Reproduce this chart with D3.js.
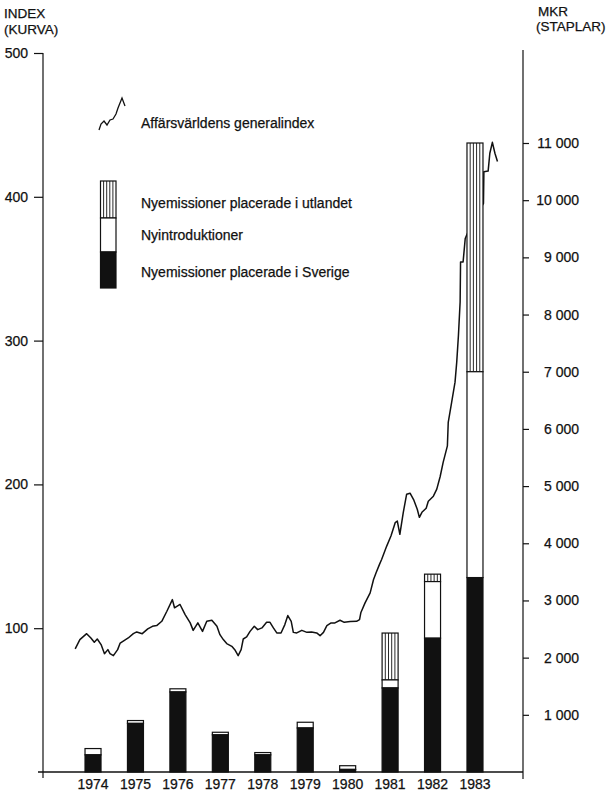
<!DOCTYPE html>
<html><head><meta charset="utf-8">
<script src="https://cdn.jsdelivr.net/npm/d3@7"></script>
<style>
html,body{margin:0;padding:0;background:#fff;}
text{font-family:"Liberation Sans",Arial,Helvetica,sans-serif;fill:#111;stroke:#111;stroke-width:0.25px;}
</style></head>
<body>
<svg id="c" width="611" height="793"></svg>
<script>
// ---- data ----
const years = [1974,1975,1976,1977,1978,1979,1980,1981,1982,1983];
const sverige  = [300, 850,1400, 650, 300, 770,  45,1470,2340,3400]; // Nyemissioner placerade i Sverige (MKR)
const nyintro  = [110,  50,  55,  45,  40, 100,  65, 140, 990,3600]; // Nyintroduktioner (MKR)
const utlandet = [  0,   0,   0,   0,   0,   0,   0, 820, 130,4000]; // Nyemissioner placerade i utlandet (MKR)
const indexTime = [1974.08,1974.19,1974.35,1974.45,1974.53,1974.60,1974.69,1974.77,1974.85,1974.90,1974.98,
 1975.08,1975.14,1975.24,1975.33,1975.45,1975.53,1975.66,1975.79,1975.90,1976.00,1976.12,1976.24,1976.37,1976.42,
 1976.55,1976.67,1976.79,1976.86,1976.97,1977.08,1977.18,1977.30,1977.42,1977.49,1977.57,1977.65,1977.77,1977.85,
 1977.92,1977.99,1978.04,1978.12,1978.20,1978.30,1978.38,1978.48,1978.59,1978.67,1978.75,1978.83,1978.93,1979.02,
 1979.09,1979.17,1979.22,1979.30,1979.42,1979.54,1979.65,1979.77,1979.85,1979.93,1980.01,1980.11,1980.20,1980.32,
 1980.42,1980.56,1980.71,1980.78,1980.81,1980.91,1981.03,1981.11,1981.17,1981.25,1981.30,1981.42,1981.52,1981.62,
 1981.67,1981.73,1981.81,1981.89,1981.97,1982.06,1982.14,1982.19,1982.25,1982.35,1982.40,1982.52,1982.60,1982.68,
 1982.75,1982.85,1982.87,1982.95,1983.03,1983.07,1983.11,1983.15,1983.16,1983.22,1983.27,1983.31,1983.43,1983.57,
 1983.70,1983.71,1983.81,1983.85,1983.91,1983.97,1984.03];
const indexValue = [85.6,92.1,96.2,93.2,90.2,92.5,88.6,82.3,85.1,82.3,80.9,
 85.1,89.7,91.6,93.2,96.2,97.4,96.2,99.5,101.3,101.8,104.8,111.8,119.9,114.2,
 116.5,109.5,103.7,98.5,103.7,97.8,104.8,105.5,101.3,95.5,92.1,89.3,87.4,84.6,
 80.9,85.1,92.5,93.9,97.8,101.3,99.0,100.2,104.1,104.1,100.2,96.7,96.7,102.5,
 108.8,104.8,97.1,96.7,98.5,97.1,97.4,96.7,94.8,97.1,101.8,103.7,103.7,105.5,
 104.1,104.6,104.8,106.0,110.7,117.6,124.6,133.9,138.6,144.4,147.8,157.1,164.1,173.4,
 174.5,165.3,180.4,193.2,193.9,189.0,182.7,177.1,180.6,183.4,188.3,191.8,196.7,205.5,
 215.3,226.8,243.2,257.1,271.1,285.0,303.6,326.8,354.7,354.7,371.0,373.8,381.4,388.4,
 395.4,417.5,417.9,430.3,437.9,430.3,424.5];
const leftTicks = [100,200,300,400,500];
const rightTicks = [1000,2000,3000,4000,5000,6000,7000,8000,9000,10000,11000];
const legendLabels = ["Affärsvärldens generalindex","Nyemissioner placerade i utlandet","Nyintroduktioner","Nyemissioner placerade i Sverige"];

// ---- scales ----
const svg = d3.select("#c");
const x = d3.scaleLinear().domain([1974,1984]).range([71.8,496.2]);
const yL = d3.scaleLinear().domain([0,500]).range([772,53]);
const yR = d3.scaleLinear().domain([0,11000]).range([772,143]);
const loc = d3.formatLocale({decimal:",",thousands:"\u2009",grouping:[3],currency:["",""]});
const fmt = v => loc.format(",")(v).replace("\u2009"," ");

// ---- index line ----
const lineData = indexTime.map((t,i)=>[t,indexValue[i]]);
svg.append("path").datum(lineData)
  .attr("d", d3.line().x(d=>x(d[0])).y(d=>yL(d[1])).curve(d3.curveLinear))
  .attr("fill","none").attr("stroke","#111").attr("stroke-width",1.5).attr("stroke-linejoin","round");

// ---- bars ----
const bw = 16;
function hatched(g, x0, y0, w, h){
  g.append("rect").attr("x",x0).attr("y",y0).attr("width",w).attr("height",h)
    .attr("fill","#fff").attr("stroke","#111").attr("stroke-width",1.2);
  for(let k=1;k<5;k++){
    g.append("line").attr("x1",x0+k*w/5).attr("x2",x0+k*w/5).attr("y1",y0).attr("y2",y0+h)
      .attr("stroke","#111").attr("stroke-width",0.9);
  }
}
const barG = svg.append("g");
years.forEach((yr,i)=>{
  const cx = x(yr+0.5), x0 = cx-bw/2;
  const s0 = 0, s1 = sverige[i], s2 = s1+nyintro[i], s3 = s2+utlandet[i];
  const g = barG.append("g");
  if(utlandet[i]>0) hatched(g, x0, yR(s3), bw, yR(s2)-yR(s3));
  g.append("rect").attr("x",x0).attr("y",yR(s2)).attr("width",bw).attr("height",yR(s1)-yR(s2))
    .attr("fill","#fff").attr("stroke","#111").attr("stroke-width",1.2);
  g.append("rect").attr("x",x0).attr("y",yR(s1)).attr("width",bw).attr("height",yR(s0)-yR(s1))
    .attr("fill","#111").attr("stroke","#111").attr("stroke-width",1.2);
});

// ---- axes ----
const axL = svg.append("g").attr("transform","translate(43,0)")
  .call(d3.axisLeft(yL).tickValues(leftTicks).tickSize(9).tickPadding(6));
axL.select(".domain").remove();
axL.selectAll("text").style("font-size","14px").style("font-family","Liberation Sans, Arial, sans-serif").attr("fill","#111");
axL.selectAll("line").attr("stroke","#111").attr("stroke-width",1.2);
svg.append("line").attr("x1",43).attr("x2",43).attr("y1",yL(500)).attr("y2",778).attr("stroke","#111").attr("stroke-width",1.2);

const axR = svg.append("g").attr("transform","translate(523,0)")
  .call(d3.axisRight(yR).tickValues(rightTicks).tickSize(6).tickFormat(fmt));
axR.select(".domain").remove();
axR.selectAll("text").attr("text-anchor","end").attr("x",56)
  .style("font-size","14px").style("font-family","Liberation Sans, Arial, sans-serif").attr("fill","#111");
axR.selectAll("line").attr("stroke","#111").attr("stroke-width",1.2);
svg.append("line").attr("x1",523).attr("x2",523).attr("y1",50).attr("y2",779).attr("stroke","#111").attr("stroke-width",1.2);

// baseline
svg.append("line").attr("x1",38).attr("x2",523).attr("y1",yR(0)).attr("y2",yR(0)).attr("stroke","#111").attr("stroke-width",1.3);

// year labels
svg.append("g").selectAll("text").data(years).join("text")
  .attr("x",d=>x(d+0.5)).attr("y",789).attr("text-anchor","middle")
  .style("font-size","14px").text(d=>d);

// axis titles
svg.append("text").attr("x",4).attr("y",18).style("font-size","13.5px").text("INDEX");
svg.append("text").attr("x",4).attr("y",34).style("font-size","13.5px").text("(KURVA)");
svg.append("text").attr("x",538).attr("y",16).style("font-size","13.5px").text("MKR");
svg.append("text").attr("x",536).attr("y",31).style("font-size","13.5px").text("(STAPLAR)");

// ---- legend ----
const lg = svg.append("g");
const squiggle = [[0,32],[2,26],[5,23],[8,27],[11,22],[14,21],[17,16],[19,10],[21,5],[23,0],[26,8]];
lg.append("path").datum(squiggle).attr("transform","translate(99,98)")
  .attr("d",d3.line().x(d=>d[0]).y(d=>d[1]))
  .attr("fill","none").attr("stroke","#111").attr("stroke-width",1.3);
lg.append("text").attr("x",141).attr("y",128).style("font-size","14px").text(legendLabels[0]);
hatched(lg, 100.5, 181, 15.5, 37);
lg.append("rect").attr("x",100.5).attr("y",218).attr("width",15.5).attr("height",34)
  .attr("fill","#fff").attr("stroke","#111").attr("stroke-width",1.2);
lg.append("rect").attr("x",100.5).attr("y",252).attr("width",15.5).attr("height",36)
  .attr("fill","#111").attr("stroke","#111").attr("stroke-width",1.2);
lg.append("text").attr("x",141).attr("y",208).style("font-size","14px").text(legendLabels[1]);
lg.append("text").attr("x",141).attr("y",240).style("font-size","14px").text(legendLabels[2]);
lg.append("text").attr("x",141).attr("y",277).style("font-size","14px").text(legendLabels[3]);
</script>
</body></html>
